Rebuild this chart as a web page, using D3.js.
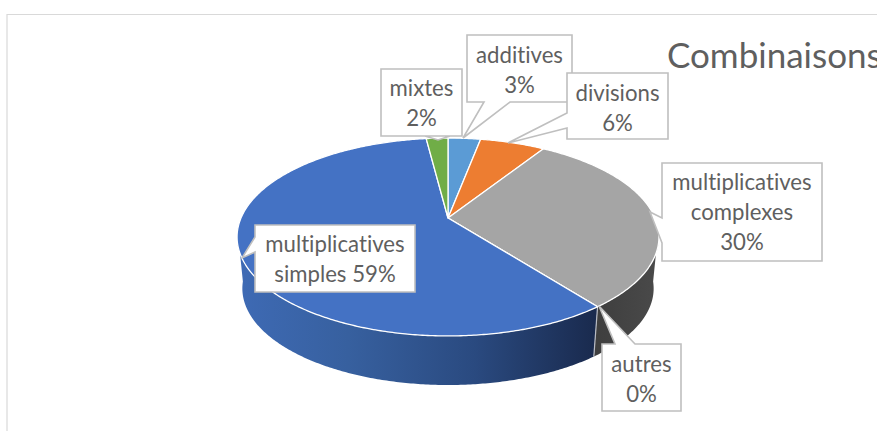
<!DOCTYPE html>
<html>
<head>
<meta charset="utf-8">
<script src="https://cdn.jsdelivr.net/npm/d3@7"></script>
<style>
html,body{margin:0;padding:0;background:#fff;overflow:hidden}
svg{display:block}
text{font-family:Lato,"Open Sans",sans-serif;fill:#5f5f5f;font-variant-ligatures:none}
</style>
</head>
<body>
<svg id="c" width="877" height="431"></svg>
<script>
const categories = ["additives","divisions","multiplicatives complexes","autres","multiplicatives simples","mixtes"];
const values = [3,6,30.5,0,58.5,2];
const colors = ["#5b9bd5","#ed7d31","#a5a5a5","#ffc000","#4472c4","#70ad47"];
const labelLines = [["additives","3%"],["divisions","6%"],["multiplicatives","complexes","30%"],["autres","0%"],["multiplicatives","simples 59%"],["mixtes","2%"]];
const title = "Combinaisons";

// Layout of the perspective disc
const apex = {x:448,y:218}, A = 207, B = 95.3, K = 0.192;
const depth = {s:0.975, dy:52};
const svg = d3.select("#c");

function proj(t, s=1, dy=0){
  const u = Math.sin(t), v = -Math.cos(t), w = 1 - K*v;
  return [apex.x + s*A*u/w, apex.y + dy + s*B*v/w];
}
function sweep(a0,a1,s,dy){
  const n = Math.max(2,Math.ceil(Math.abs(a1-a0)/0.01));
  return d3.range(n+1).map(i=>proj(a0+(a1-a0)*i/n,s,dy));
}
const line = d3.line();
const arcs = d3.pie().sort(null).value(d=>d)(values);
const rad = d=>d*Math.PI/180;

// frame
svg.append("path").attr("d","M7,431V14.5H877").attr("fill","none").attr("stroke","#d9d9d9").attr("stroke-width",1.2);

// gradients
const defs = svg.append("defs");
const g1 = defs.append("linearGradient").attr("id","wallBlue").attr("gradientUnits","userSpaceOnUse")
  .attr("x1",240).attr("x2",600).attr("y1",0).attr("y2",0);
[[0,"#3e6ab4"],[0.3,"#37609f"],[0.65,"#2a4a80"],[1,"#19294c"]].forEach(s=>g1.append("stop").attr("offset",s[0]).attr("stop-color",s[1]));
const g2 = defs.append("linearGradient").attr("id","wallGray").attr("gradientUnits","userSpaceOnUse")
  .attr("x1",600).attr("x2",660).attr("y1",0).attr("y2",0);
[[0,"#3f3f3f"],[1,"#4a4a4a"]].forEach(s=>g2.append("stop").attr("offset",s[0]).attr("stop-color",s[1]));

// side wall
const wallStart = rad(97), wallEnd = rad(263);
const seam = arcs[3].startAngle;
function wall(a0,a1,fill){
  const pts = sweep(a0,a1,1,0).concat(sweep(a1,a0,depth.s,depth.dy));
  svg.append("path").attr("d",line(pts)+"Z").attr("fill",fill);
}
wall(wallStart,seam,"url(#wallGray)");
wall(seam,wallEnd,"url(#wallBlue)");
svg.append("path").attr("d",line([proj(seam),proj(seam,depth.s,depth.dy)]))
  .attr("stroke","#b9bcc4").attr("stroke-width",1.2).attr("fill","none");

// top surface
svg.append("g").selectAll("path").data(arcs).join("path")
  .attr("d",d=>line([[apex.x,apex.y]].concat(sweep(d.startAngle,d.endAngle,1,0)))+"Z")
  .attr("fill",(d,i)=>colors[i])
  .attr("stroke","#fff").attr("stroke-width",1.3).attr("stroke-linejoin","round");

// callouts: box [x0,y0,x1,y1], tail [base1, tip, base2], drawn clockwise
const boxes = [
 {i:5,b:[381,69,462,136],dy:0,side:"bottom",t:[[425,136],[438,140],[450,136]]},
 {i:0,b:[467,35,572,102],dy:1,side:"bottom",t:[[510,102],[463,138],[484,102]]},
 {i:1,b:[567,73,668,139],dy:2,side:"left",t:[[567,128],[508,143],[567,113]]},
 {i:2,b:[662,163,822,261],dy:0,side:"left",t:[[662,243],[650,212],[662,218]]},
 {i:3,b:[602,344,681,411],dy:1,side:"top",t:[[615,344],[599,306],[635,344]]},
 {i:4,b:[255,225,415,292],dy:0,side:"left",t:[[255,252],[242,258],[255,237]]}
];
boxes.forEach(o=>{
  const [x0,y0,x1,y1]=o.b; let p;
  if(o.side==="top") p=[[x0,y0],...o.t,[x1,y0],[x1,y1],[x0,y1]];
  if(o.side==="bottom") p=[[x0,y0],[x1,y0],[x1,y1],...o.t,[x0,y1]];
  if(o.side==="left") p=[[x0,y0],[x1,y0],[x1,y1],[x0,y1],...o.t];
  svg.append("path").attr("d",line(p)+"Z").attr("fill","#fff").attr("stroke","#bfbfbf").attr("stroke-width",1.6);
  const lines=labelLines[o.i], cx=(x0+x1)/2, cy=(y0+y1)/2, lh=30;
  lines.forEach((s,j)=>{
    svg.append("text").attr("x",cx).attr("y",cy+(j-(lines.length-1)/2)*lh+8+o.dy)
      .attr("text-anchor","middle").attr("font-size",22.2).text(s);
  });
});

svg.append("text").attr("x",667).attr("y",68).attr("font-size",35).text(title);
</script>
</body>
</html>
